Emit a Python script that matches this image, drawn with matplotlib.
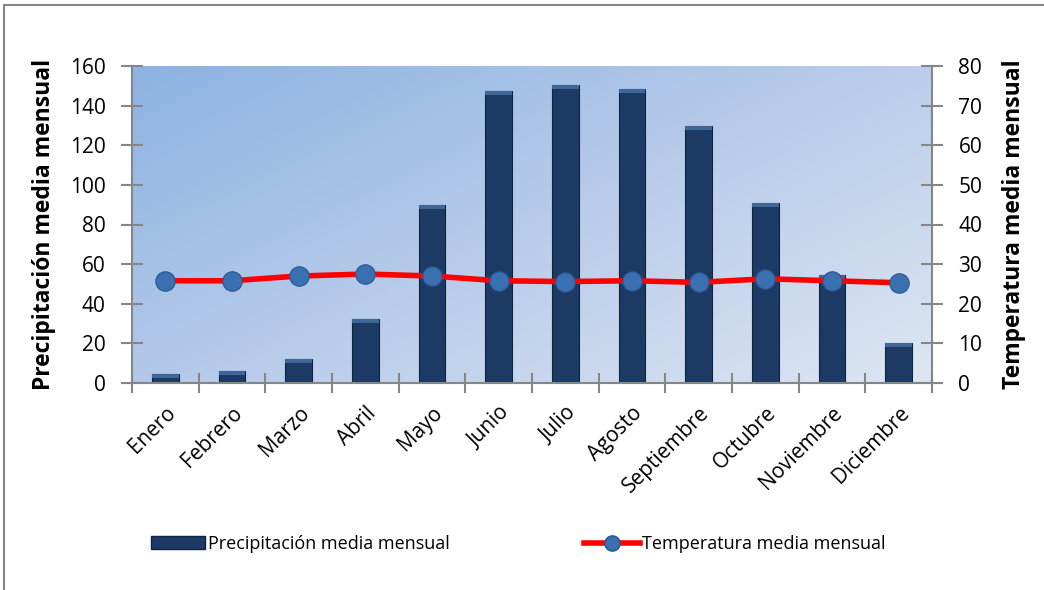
import numpy as np
import matplotlib
matplotlib.use("Agg")
import matplotlib.pyplot as plt
from matplotlib.patches import Rectangle
from matplotlib.lines import Line2D
from matplotlib.colors import LinearSegmentedColormap

months = ["Enero", "Febrero", "Marzo", "Abril", "Mayo", "Junio", "Julio",
          "Agosto", "Septiembre", "Octubre", "Noviembre", "Diciembre"]
precip = [4.4, 6.2, 12, 32.3, 90, 147.5, 150.5, 148.5, 129.5, 91, 54.5, 20]
temp = [25.8, 25.8, 27.0, 27.5, 27.0, 25.8, 25.6, 25.8, 25.4, 26.3, 25.8, 25.3]
left_ticks = [0, 20, 40, 60, 80, 100, 120, 140, 160]
right_ticks = [0, 10, 20, 30, 40, 50, 60, 70, 80]
label_left = "Precipitación media mensual"
label_right = "Temperatura media mensual"

plt.rcParams['font.family'] = ['Open Sans', 'DejaVu Sans']

fig = plt.figure(figsize=(10.44, 5.90), dpi=100)
W, H = 1044, 590
ax = fig.add_axes([132 / W, 1 - 383 / H, 800 / W, 317 / H])

# gradient background
gx, gy = np.meshgrid(np.linspace(0, 1, 200), np.linspace(0, 1, 200))
g = (gx * 0.55 + gy * 0.45)
cmap = LinearSegmentedColormap.from_list("bg", ["#8DB3E2", "#B7CBEA", "#DDE6F3"])
ax.imshow(g, extent=[-0.5, 11.5, 0, 160], aspect='auto', cmap=cmap,
          origin='upper', zorder=0)

x = np.arange(len(months))
ax.bar(x, precip, width=0.4, color="#1C3A63", edgecolor="#0F2440",
       linewidth=0.8, zorder=2)
# bevel highlight at top of bars
for xi, p in zip(x, precip):
    ax.add_patch(Rectangle((xi - 0.2, p - 2.0), 0.4, 2.0, facecolor="#3F6796",
                           edgecolor="none", zorder=3))

tick_col = "#868686"
ax.set_xlim(-0.5, 11.5)
ax.set_ylim(0, 160)
ax.set_yticks(left_ticks)
ax.set_xticks(np.arange(-0.5, 12, 1))
ax.set_xticklabels([])
ax.set_xticks(x, minor=True)
ax.set_xticklabels(months, minor=True, rotation=45, ha='right',
                   rotation_mode='anchor', fontsize=15)
ax.tick_params(axis='x', which='minor', length=0, pad=14)
ax.tick_params(axis='x', which='major', length=14, width=1.5, color=tick_col,
               direction='inout')
ax.tick_params(axis='y', length=16, width=1.5, color=tick_col, labelsize=15,
               direction='inout', pad=11)
for s in ['top', 'right']:
    ax.spines[s].set_visible(False)
for s in ['left', 'bottom']:
    ax.spines[s].set_color(tick_col)
    ax.spines[s].set_linewidth(1.5)
ax.set_ylabel(label_left, fontsize=16.5, fontweight='bold', labelpad=10)

ax2 = ax.twinx()
ax2.set_ylim(0, 80)
ax2.set_yticks(right_ticks)
ax2.plot(x, temp, color="#FF0000", linewidth=4, zorder=4,
         marker='o', markersize=14, markerfacecolor="#3A6FB0",
         markeredgecolor="#2A5590", markeredgewidth=0.8)
for s in ['top', 'left', 'bottom']:
    ax2.spines[s].set_visible(False)
ax2.spines['right'].set_color(tick_col)
ax2.spines['right'].set_linewidth(1.5)
ax2.tick_params(axis='y', length=16, width=1.5, color=tick_col, labelsize=15,
                direction='inout', pad=11)
ax2.set_ylabel(label_right, fontsize=16.5, fontweight='bold', labelpad=14)

# figure border
fig.add_artist(Rectangle((4 / W, -0.1), 1.2, 1 - 5 / H + 0.1,
                         transform=fig.transFigure, fill=False,
                         edgecolor=tick_col, linewidth=1.5))

# legend
h1 = Rectangle((0, 0), 1, 1, facecolor="#1C3A63", edgecolor="#0F2440")
h2 = Line2D([], [], color="#FF0000", linewidth=4, marker='o', markersize=11,
            markerfacecolor="#3A6FB0", markeredgecolor="#2A5590")
fig.legend([h1], [label_left], loc='center left',
           bbox_to_anchor=(135 / W, 1 - 544 / H), frameon=False, fontsize=13,
           handlelength=2.95, handleheight=0.75, handletextpad=0.2)
fig.legend([h2], [label_right], loc='center left',
           bbox_to_anchor=(568 / W, 1 - 544 / H), frameon=False, fontsize=13,
           handlelength=3.1, handletextpad=0.1)

fig.savefig("out.png", dpi=100)
